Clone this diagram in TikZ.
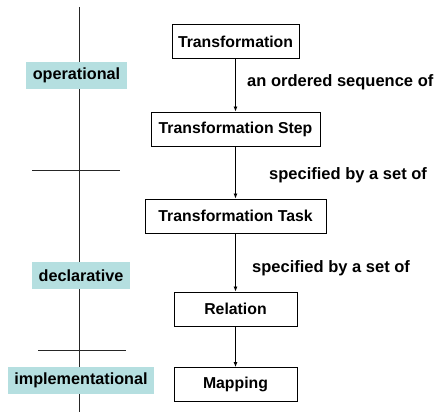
\documentclass[tikz,border=0pt]{standalone}
\usepackage{fontspec}
\setmainfont{Liberation Sans}
\usetikzlibrary{arrows.meta}
\begin{document}
\begin{tikzpicture}[x=1pt,y=-1pt,
  box/.style={draw=black,line width=0.9pt,minimum height=34pt,inner sep=0pt,font=\fontsize{15.8}{17}\selectfont\bfseries},
  lev/.style={fill=levcol,inner sep=0pt,minimum height=27pt,font=\fontsize{16.2}{17}\selectfont\bfseries},
  lbl/.style={font=\fontsize{16.5}{17}\selectfont\bfseries,inner sep=0pt,anchor=west},
  arr/.style={-{Latex[length=5pt,width=4pt]},line width=0.8pt},
  rule/.style={line width=0.8pt,draw=black!85}]
\definecolor{levcol}{HTML}{B5DFE0}
\useasboundingbox (0,0) rectangle (435,412);
% axis
\coordinate (vt) at (79,7);
\coordinate (vb) at (79,412);
\coordinate (h1a) at (32,170);
\coordinate (h1b) at (120,170);
\coordinate (h2a) at (38,350);
\coordinate (h2b) at (126,350);
\draw[rule] (vt) -- (vb);
\draw[rule] (h1a) -- (h1b);
\draw[rule] (h2a) -- (h2b);
% level labels
\node[lev,minimum width=101pt] (op) at (76.5,75) {operational};
\node[lev,minimum width=98pt] (de) at (81,275.5) {declarative};
\node[lev,minimum width=146pt] (im) at (81,380) {implementational};
% boxes
\node[box,minimum width=127pt] (t) at (235.5,41.5) {Transformation};
\node[box,minimum width=169pt] (ts) at (235.5,129) {Transformation Step};
\node[box,minimum width=181pt] (tt) at (235.5,216) {Transformation Task};
\node[box,minimum width=123pt] (r) at (235.5,309) {Relation};
\node[box,minimum width=123pt] (m) at (235.5,384.5) {Mapping};
% arrows
\draw[arr] (t) -- (ts);
\draw[arr] (ts) -- (tt);
\draw[arr] (tt) -- (r);
\draw[arr] (r) -- (m);
% labels
\node[lbl] (l1) at (247,82) {an ordered sequence of};
\node[lbl] (l2) at (269,175) {specified by a set of};
\node[lbl] (l3) at (252,268) {specified by a set of};
\end{tikzpicture}
\end{document}
